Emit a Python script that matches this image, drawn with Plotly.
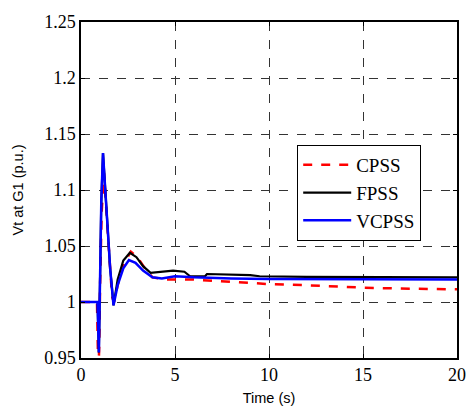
import plotly.graph_objects as go

# --- data ---
t_cpss = [0, 0.85, 0.92, 0.97, 1.02, 1.1, 1.22, 1.35, 1.5, 1.65, 1.75, 1.95, 2.3, 2.65, 3.0, 3.4, 3.8, 4.5,
          6.0, 7.0, 8.5, 10, 12, 14, 15, 17, 20]
v_cpss = [1.0, 1.0, 0.935, 0.96, 1.02, 1.08, 1.115, 1.08, 1.035, 1.005, 1.0, 1.015, 1.035, 1.045, 1.04, 1.03,
          1.022, 1.02, 1.02, 1.019, 1.0175, 1.016, 1.015, 1.0135, 1.0128, 1.012, 1.0113]

t_fpss = [0, 0.88, 0.95, 1.0, 1.08, 1.17, 1.35, 1.55, 1.73, 1.95, 2.25, 2.6, 2.95, 3.3, 3.7, 4.2, 4.9, 5.5,
          5.8, 6.6, 6.7, 9.0, 9.5, 12, 20]
v_fpss = [1.0, 1.0, 0.955, 1.0, 1.09, 1.133, 1.08, 1.03, 0.997, 1.02, 1.037, 1.044, 1.04, 1.032, 1.026, 1.027,
          1.028, 1.027, 1.023, 1.023, 1.025, 1.024, 1.023, 1.0225, 1.022]

t_vcpss = [0, 0.88, 0.95, 1.0, 1.08, 1.17, 1.35, 1.55, 1.73, 1.95, 2.25, 2.55, 2.9, 3.3, 3.8, 4.3, 5.0, 6.0,
           8.0, 10, 20]
v_vcpss = [1.0, 1.0, 0.955, 1.0, 1.09, 1.133, 1.08, 1.03, 0.997, 1.015, 1.03, 1.0375, 1.035, 1.028, 1.022,
           1.021, 1.023, 1.022, 1.021, 1.0205, 1.02]

x_ticks = [0, 5, 10, 15, 20]
y_ticks = [0.95, 1.0, 1.05, 1.1, 1.15, 1.2, 1.25]
y_labels = ["0.95", "1", "1.05", "1.1", "1.15", "1.2", "1.25"]

serif = "Liberation Serif"
sans = "Liberation Sans"

fig = go.Figure()
fig.add_trace(go.Scatter(x=t_cpss, y=v_cpss, mode="lines", name="CPSS",
                         line=dict(color="#ff0000", width=2.5, dash="dash")))
fig.add_trace(go.Scatter(x=t_fpss, y=v_fpss, mode="lines", name="FPSS",
                         line=dict(color="#000000", width=2.2)))
fig.add_trace(go.Scatter(x=t_vcpss, y=v_vcpss, mode="lines", name="VCPSS",
                         line=dict(color="#0000ff", width=2.5)))

axis_common = dict(showline=True, linecolor="black", linewidth=1.5, mirror="ticks",
                   ticks="inside", ticklen=4, tickcolor="black", automargin=False,
                   showgrid=True, gridcolor="#333333", gridwidth=1, griddash="dash",
                   zeroline=False, tickfont=dict(family=serif, size=18, color="black"))

fig.update_layout(
    width=469, height=409,
    margin=dict(l=81, r=12, t=22, b=51),
    paper_bgcolor="white", plot_bgcolor="white",
    showlegend=True,
    legend=dict(x=0.575, y=0.634, xanchor="left", yanchor="top",
                bgcolor="white", bordercolor="black", borderwidth=1,
                font=dict(family=serif, size=19, color="black"),
                itemwidth=48, tracegroupgap=0),
    xaxis=dict(range=[0, 20], tickvals=x_ticks,
               title=dict(text="Time (s)", font=dict(family=sans, size=14.5, color="black"), standoff=9),
               **axis_common),
    yaxis=dict(range=[0.95, 1.25], tickvals=y_ticks, ticktext=y_labels,
               title=dict(text="Vt at G1 (p.u.)", font=dict(family=sans, size=14.5, color="black"), standoff=17),
               **axis_common),
)

# drop the default page margin so the figure sits at the window's corner
fig.write_html("out.html", config={"displayModeBar": False},
               post_script="document.body.style.margin='0';")
